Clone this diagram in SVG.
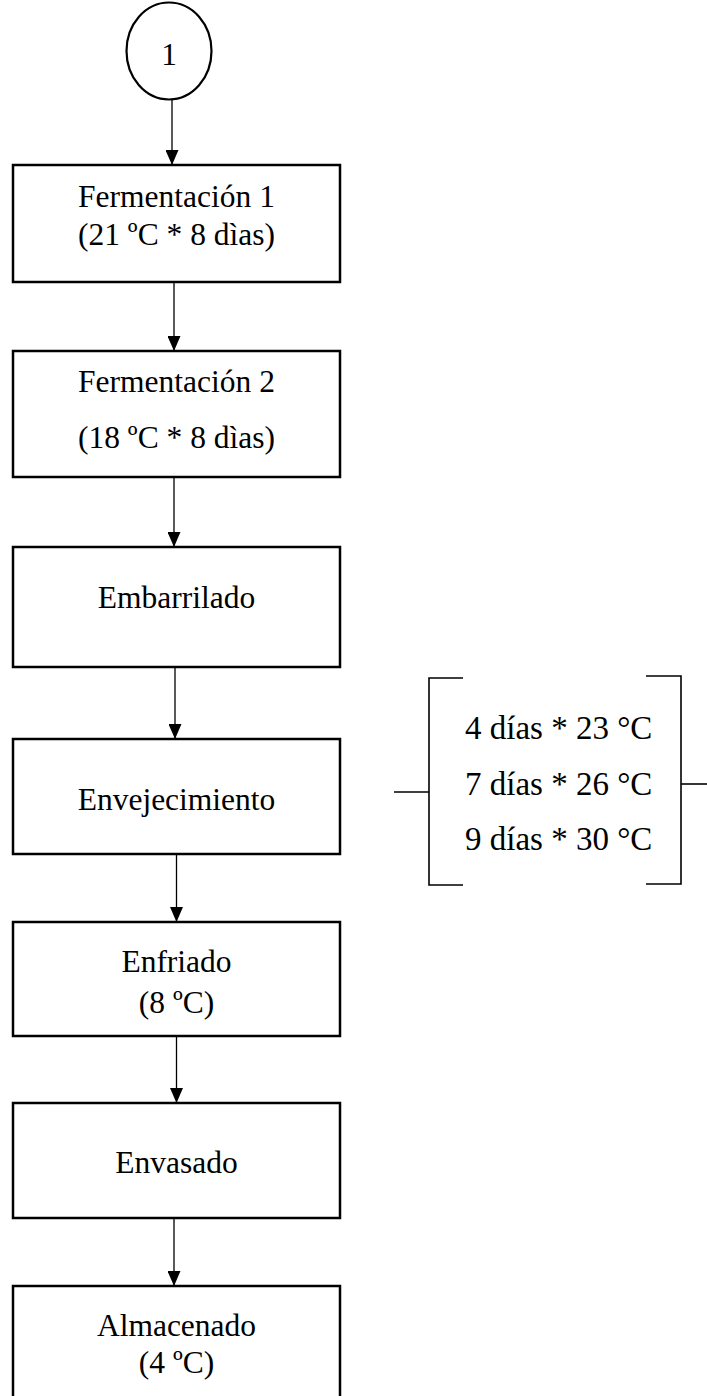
<svg xmlns="http://www.w3.org/2000/svg" width="707" height="1396" viewBox="0 0 707 1396">
<defs>
<style>
.box{fill:#fff;stroke:#000;stroke-width:2.5}
.t{font-family:"Liberation Serif","Times New Roman",serif;font-size:31.5px;fill:#000;text-anchor:middle}
.bt{font-family:"Liberation Serif","Times New Roman",serif;font-size:33px;fill:#000}
.c{fill:none;stroke:#000;stroke-width:1.3}
.br{fill:none;stroke:#000;stroke-width:1.6}
</style>
<marker id="ah" markerWidth="15" markerHeight="13" refX="15" refY="6.5" orient="auto" markerUnits="userSpaceOnUse" viewBox="0 0 15 13">
<path d="M0,0 L15,6.5 L0,13 Z" fill="#000"/>
</marker>
</defs>
<rect width="707" height="1396" fill="#fff"/>
<g id="connectors">
<line class="c" x1="172" y1="100" x2="172" y2="165" marker-end="url(#ah)"/>
<line class="c" x1="174" y1="282" x2="174" y2="351" marker-end="url(#ah)"/>
<line class="c" x1="174" y1="477" x2="174" y2="547" marker-end="url(#ah)"/>
<line class="c" x1="175" y1="667" x2="175" y2="739" marker-end="url(#ah)"/>
<line class="c" x1="176.5" y1="854" x2="176.5" y2="922" marker-end="url(#ah)"/>
<line class="c" x1="176.5" y1="1036" x2="176.5" y2="1103" marker-end="url(#ah)"/>
<line class="c" x1="174" y1="1218" x2="174" y2="1286" marker-end="url(#ah)"/>
</g>
<g id="start">
<ellipse cx="169" cy="51" rx="42.5" ry="48.5" fill="#fff" stroke="#000" stroke-width="2.2"/>
<text class="t" x="169" y="65">1</text>
</g>
<g id="fermentacion1">
<rect class="box" x="13" y="165" width="327" height="117"/>
<text class="t" x="176.5" y="207">Fermentación 1</text>
<text class="t" x="176.5" y="245">(21 ºC * 8 dìas)</text>
</g>
<g id="fermentacion2">
<rect class="box" x="13" y="351" width="327" height="126"/>
<text class="t" x="176.5" y="392">Fermentación 2</text>
<text class="t" x="176.5" y="448">(18 ºC * 8 dìas)</text>
</g>
<g id="embarrilado">
<rect class="box" x="13" y="547" width="327" height="120"/>
<text class="t" x="176.5" y="608">Embarrilado</text>
</g>
<g id="envejecimiento">
<rect class="box" x="13" y="739" width="327" height="115"/>
<text class="t" x="176.5" y="810">Envejecimiento</text>
</g>
<g id="condiciones">
<path class="br" d="M463,678 H429 V885 H463"/>
<path class="br" d="M646,676 H681 V884 H646"/>
<line class="br" x1="394" y1="792" x2="429" y2="792"/>
<line class="br" x1="681" y1="784" x2="707" y2="784"/>
<text class="bt" x="465" y="739">4 días * 23 °C</text>
<text class="bt" x="465" y="795">7 días * 26 °C</text>
<text class="bt" x="465" y="850">9 días * 30 °C</text>
</g>
<g id="enfriado">
<rect class="box" x="13" y="922" width="327" height="114"/>
<text class="t" x="176.5" y="972">Enfriado</text>
<text class="t" x="176.5" y="1013">(8 ºC)</text>
</g>
<g id="envasado">
<rect class="box" x="13" y="1103" width="327" height="115"/>
<text class="t" x="176.5" y="1173">Envasado</text>
</g>
<g id="almacenado">
<rect class="box" x="13" y="1286" width="327" height="116"/>
<text class="t" x="176.5" y="1336">Almacenado</text>
<text class="t" x="176.5" y="1373">(4 ºC)</text>
</g>
</svg>
